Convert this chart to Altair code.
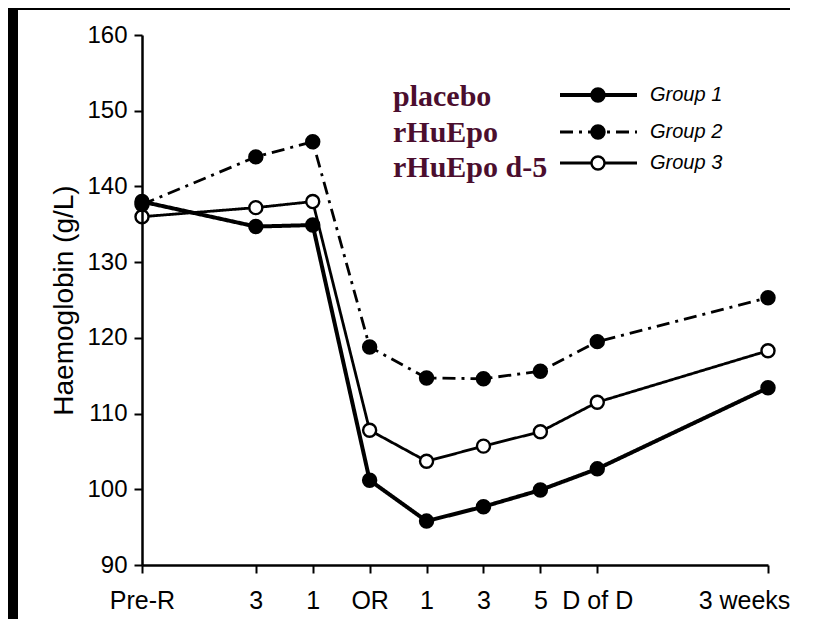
import altair as alt
import pandas as pd

# ---- data ----
x_pos = [0, 2, 3, 4, 5, 6, 7, 8, 11]
x_labels = ["Pre-R", "3", "1", "OR", "1", "3", "5", "D of D", "3 weeks"]
group1 = [138.0, 134.7, 134.9, 101.2, 95.8, 97.7, 99.9, 102.7, 113.4]
group2 = [137.6, 143.9, 145.9, 118.8, 114.7, 114.6, 115.6, 119.5, 125.3]
group3 = [136.0, 137.2, 138.0, 107.8, 103.7, 105.7, 107.6, 111.5, 118.3]
groups = ["Group 1", "Group 2", "Group 3"]
treatments = ["placebo", "rHuEpo", "rHuEpo d-5"]
y_ticks = [90, 100, 110, 120, 130, 140, 150, 160]

rows = []
for g, vals in zip(groups, [group1, group2, group3]):
    for p, v in zip(x_pos, vals):
        rows.append({"group": g, "pos": p, "hb": v})
df = pd.DataFrame(rows)

W, H = 626, 530
PAD = {"left": 134, "top": 27, "right": 22, "bottom": 54}

label_expr = ("[" + ",".join("'%s'" % s for s in x_labels) + "][indexof(["
              + ",".join(str(p) for p in x_pos) + "], datum.value)]")

x_enc = alt.X("pos:Q",
              scale=alt.Scale(domain=[0, 11], nice=False, zero=False),
              axis=alt.Axis(values=x_pos, labelExpr=label_expr, title=None, grid=False,
                            tickSize=8, tickWidth=2, domainWidth=2.5, labelFlush=False,
                            labelFontSize=25, labelPadding=15, zindex=1,
                            labelOffset={"condition": {"test": "datum.value == 11", "value": -24},
                                         "value": 0}))
y_enc = alt.Y("hb:Q",
              scale=alt.Scale(domain=[90, 160], nice=False, zero=False),
              axis=alt.Axis(values=y_ticks, title="Haemoglobin (g/L)", grid=False,
                            tickSize=8, tickWidth=2, domainWidth=2.5,
                            labelFontSize=24, labelPadding=7, zindex=1,
                            titleFontSize=28, titleFontWeight="normal", titlePadding=8))

base = alt.Chart(df).encode(x=x_enc, y=y_enc)

# black scan border along the left and top edges
one = pd.DataFrame({"a": [0]})
left_strip = alt.Chart(one).mark_rect(color="black", strokeWidth=0).encode(
    x=alt.value(-PAD["left"]), x2=alt.value(-124),
    y=alt.value(-PAD["top"]), y2=alt.value(H + PAD["bottom"]))
top_strip = alt.Chart(one).mark_rect(color="black", strokeWidth=0).encode(
    x=alt.value(-PAD["left"]), x2=alt.value(W + PAD["right"]),
    y=alt.value(-PAD["top"]), y2=alt.value(-25))

styles = {
    "Group 1": dict(sw=4, dash=[1, 0], fill="black"),
    "Group 2": dict(sw=2.8, dash=[13, 6, 3, 6], fill="black"),
    "Group 3": dict(sw=2.8, dash=[1, 0], fill="white"),
}

layers = [left_strip, top_strip]
for g in ["Group 3", "Group 2", "Group 1"]:
    s = styles[g]
    sub = base.transform_filter(alt.datum.group == g)
    layers.append(sub.mark_line(color="black", strokeWidth=s["sw"], strokeDash=s["dash"]))
    layers.append(sub.mark_point(shape="circle", filled=True, fill=s["fill"], stroke="black",
                                 strokeWidth=2.4, size=170, opacity=1))

# legend (drawn by hand like the original)
sym_y = [60, 97, 128]
txt_y = [71, 107, 142]
for i, g in enumerate(groups):
    s = styles[g]
    d = pd.DataFrame({"group": [g], "treat": [treatments[i]]})
    c = alt.Chart(d)
    layers.append(c.mark_rule(color="black", strokeWidth=s["sw"], strokeDash=s["dash"]).encode(
        x=alt.value(418), x2=alt.value(495), y=alt.value(sym_y[i])))
    layers.append(c.mark_point(shape="circle", filled=True, fill=s["fill"], stroke="black",
                               strokeWidth=2.4, size=170, opacity=1).encode(
        x=alt.value(456), y=alt.value(sym_y[i])))
    layers.append(c.mark_text(align="left", baseline="middle", fontSize=20, fontStyle="italic",
                              font="Liberation Sans", color="black").encode(
        x=alt.value(508), y=alt.value(sym_y[i]), text="group:N"))
    layers.append(c.mark_text(align="left", baseline="alphabetic", fontSize=30, fontWeight="bold",
                              font="Liberation Serif", color="#4b0e2e").encode(
        x=alt.value(251), y=alt.value(txt_y[i]), text="treat:N"))

chart = alt.layer(*layers).properties(
    width=W, height=H, padding=PAD, autosize="none", background="white"
).configure_view(stroke=None).configure_axis(
    domainColor="black", tickColor="black", labelColor="black", titleColor="black",
    labelFont="Liberation Sans", titleFont="Liberation Sans"
)

chart.save("out.html", embed_options={"renderer": "svg", "actions": False})
